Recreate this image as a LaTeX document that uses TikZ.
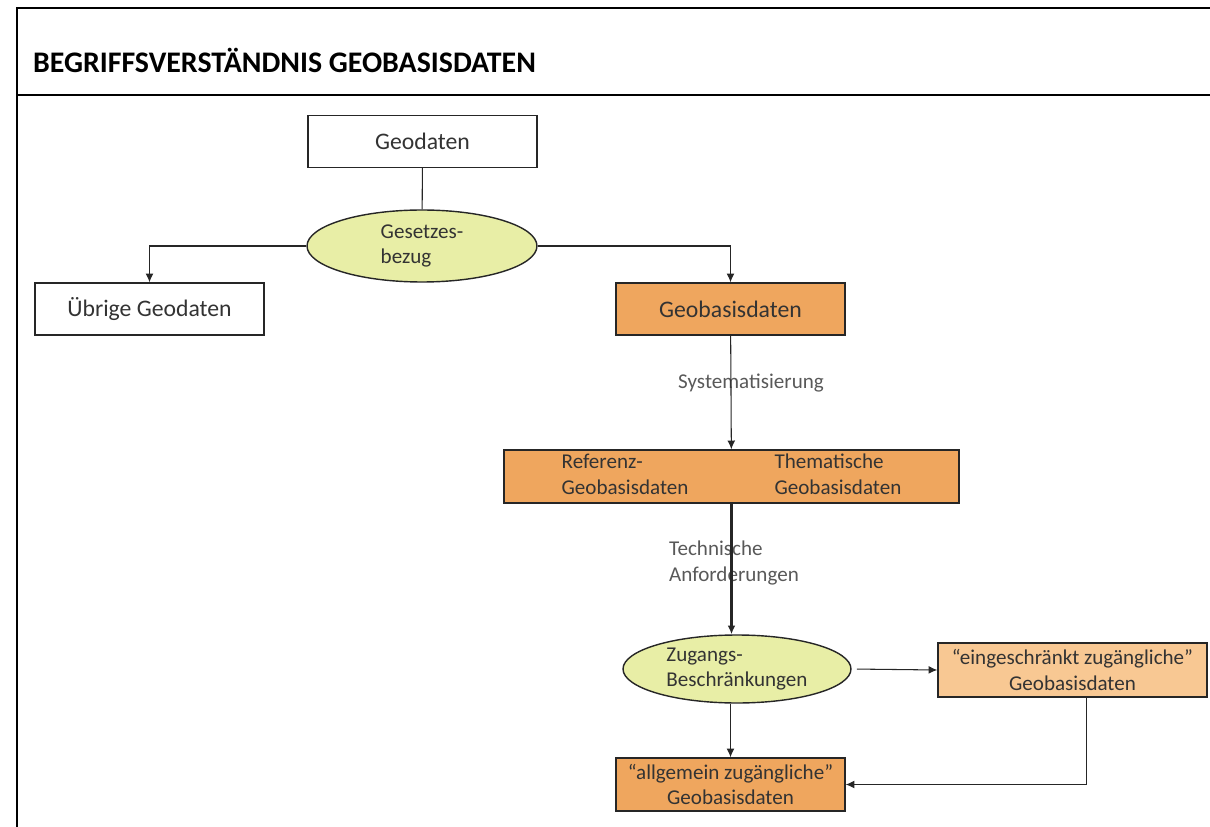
\documentclass[tikz,border=0pt]{standalone}
\usepackage{fontspec}
\setmainfont{Carlito}
\usetikzlibrary{shapes.geometric, arrows.meta}
\definecolor{boxorange}{HTML}{EFA65E}
\definecolor{lightorange}{HTML}{F8C893}
\definecolor{ovalgreen}{HTML}{E8EEA6}
\definecolor{txtgray}{HTML}{333333}
\begin{document}
\begin{tikzpicture}[x=0.02cm, y=-0.02cm,
	box/.style={draw=black!85, line width=0.8pt, minimum width=4.58cm, minimum height=1.04cm, inner sep=0pt, text=txtgray},
	oval/.style={ellipse, draw=black!85, fill=ovalgreen, line width=0.8pt, inner sep=0pt, align=left, text=txtgray, font=\fontsize{12}{14.5}\selectfont},
	lbl/.style={text=black!65, align=left, font=\fontsize{12}{14.5}\selectfont},
	conn/.style={draw=black!85, line width=0.6pt, -{Latex[length=5pt, width=4.5pt]}}]
%			\draw[help lines] (0,0) grid (1210,827);
			\useasboundingbox (0,0) rectangle (1210,827);
			\draw[line width=1.7pt] (1210,8) -- (17,8) -- (17,827);
			\draw[line width=1.7pt] (17,95) -- (1210,95);
			\node[anchor=west, font=\bfseries\fontsize{17}{20}\selectfont] (title) at (27,60) {BEGRIFFSVERSTÄNDNIS GEOBASISDATEN};
			\node[box, font=\fontsize{13.5}{16}\selectfont] (geodaten) at (422.5,141.5) {Geodaten};
			\node[oval, minimum width=4.6cm, minimum height=1.44cm] (gesetz) at (422,246) {Gesetzes-\\bezug};
			\node[box, font=\fontsize{13.5}{16}\selectfont] (uebrige) at (149.5,309) {Übrige Geodaten};
			\node[box, fill=boxorange, font=\fontsize{13.5}{16}\selectfont] (geobasis) at (730.5,309) {Geobasisdaten};
			\node[box, fill=boxorange, minimum width=9.1cm, minimum height=1.06cm, font=\fontsize{12}{14.5}\selectfont] (refbox) at (731.5,476.5) {\begin{tabular}{@{}l@{\hspace{49pt}}l@{}} Referenz- & Thematische \\ Geobasisdaten & Geobasisdaten \end{tabular}};
			\node[oval, minimum width=4.56cm, minimum height=1.36cm] (zugang) at (737,669) {Zugangs-\\Beschränkungen};
			\node[box, fill=lightorange, minimum width=5.38cm, minimum height=1.08cm, align=center, font=\fontsize{12}{14.5}\selectfont] (eingeschr) at (1072.5,670) {“eingeschränkt zugängliche”\\Geobasisdaten};
			\node[box, fill=boxorange, minimum height=1.06cm, align=center, font=\fontsize{12}{14.5}\selectfont] (allgemein) at (730.5,784.5) {“allgemein zugängliche”\\Geobasisdaten};
			\node[lbl] (systlbl) at (751,383) {Systematisierung};
			\node[lbl] (techlbl) at (734,563) {Technische\\Anforderungen};
			\draw[draw=black!85, line width=0.6pt] (geodaten) -- (gesetz);
			\draw[conn] (gesetz.west) -| (uebrige.north);
			\draw[conn] (gesetz.east) -| (geobasis.north);
			\draw[conn] (geobasis) -- (refbox);
			\draw[conn, line width=1.6pt, -{Latex[length=5pt, width=4.5pt]}] (refbox.south) -- (refbox.south |- zugang.north);
			\draw[conn] (allgemein.north |- zugang.south) -- (allgemein.north);
			\draw[conn, shorten <=3pt] (zugang.east) -- (eingeschr.west);
			\draw[conn] ([xshift=7.7pt]eingeschr.south) |- (allgemein.east);
		\end{tikzpicture}
\end{document}
